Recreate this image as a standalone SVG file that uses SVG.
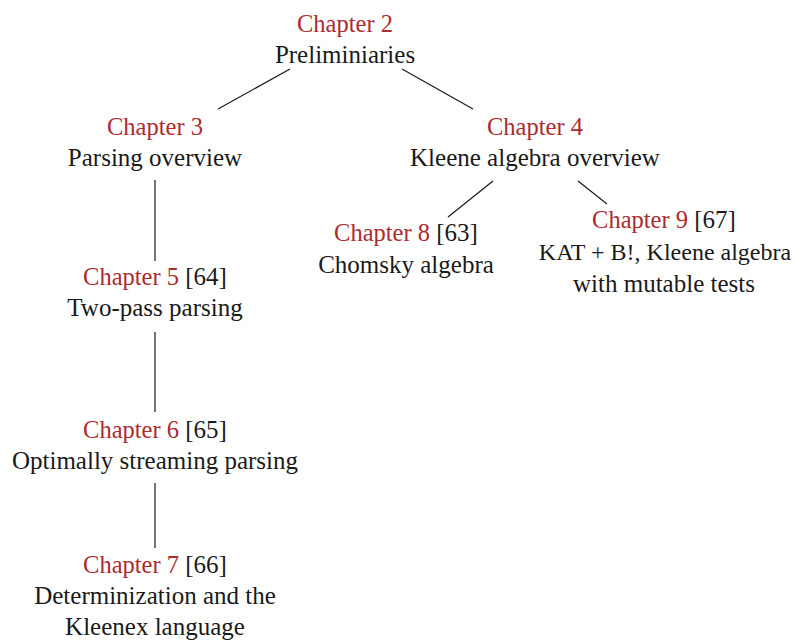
<svg xmlns="http://www.w3.org/2000/svg" width="795" height="641" viewBox="0 0 795 641">
<style>
.t{font-size:25px;fill:#1a1a1a;text-anchor:middle}
.ch{fill:#ad2a2f;font-size:24.5px}
line{stroke:#1a1a1a;stroke-width:1.2}
</style>
<rect width="795" height="641" fill="#fff"/>
<g id="connectors">
<line x1="290" y1="69" x2="218" y2="109"/>
<line x1="402" y1="69" x2="473" y2="109"/>
<line x1="155" y1="180" x2="155" y2="261"/>
<line x1="155" y1="332" x2="155" y2="412"/>
<line x1="155" y1="483" x2="155" y2="548"/>
<line x1="493" y1="181" x2="448" y2="217"/>
<line x1="578" y1="181" x2="607" y2="204"/>
</g>
<g class="t" font-family="Liberation Serif, DejaVu Serif, serif">
<g id="ch2"><text x="345" y="32" class="ch">Chapter 2</text><text x="345" y="63">Preliminiaries</text></g>
<g id="ch3"><text x="155" y="135" class="ch">Chapter 3</text><text x="155" y="166">Parsing overview</text></g>
<g id="ch4"><text x="535" y="135" class="ch">Chapter 4</text><text x="535" y="166">Kleene algebra overview</text></g>
<g id="ch5"><text x="155" y="285"><tspan class="ch">Chapter 5</tspan> [64]</text><text x="155" y="316">Two-pass parsing</text></g>
<g id="ch6"><text x="155" y="438"><tspan class="ch">Chapter 6</tspan> [65]</text><text x="155" y="469">Optimally streaming parsing</text></g>
<g id="ch7"><text x="155" y="573"><tspan class="ch">Chapter 7</tspan> [66]</text><text x="155" y="604">Determinization and the</text><text x="155" y="635">Kleenex language</text></g>
<g id="ch8"><text x="406" y="241"><tspan class="ch">Chapter 8</tspan> [63]</text><text x="406" y="273">Chomsky algebra</text></g>
<g id="ch9"><text x="664" y="228"><tspan class="ch">Chapter 9</tspan> [67]</text><text x="665" y="260" font-size="24">KAT + B!, Kleene algebra</text><text x="664" y="292">with mutable tests</text></g>
</g>
</svg>
